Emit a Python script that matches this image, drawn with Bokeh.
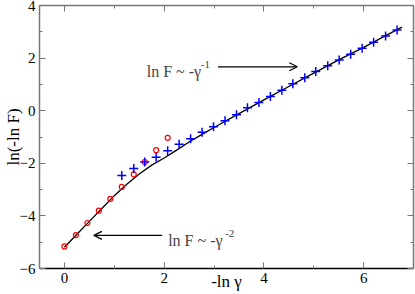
from bokeh.plotting import figure
from bokeh.models import LinearAxis, FixedTicker, Arrow, OpenHead, Label
from bokeh.embed import file_html
from bokeh.resources import INLINE

# ---- data ----
red_x = [0.0, 0.23, 0.46, 0.69, 0.92, 1.15, 1.39, 1.61, 1.84, 2.07]
red_y = [-5.16, -4.73, -4.27, -3.80, -3.35, -2.90, -2.42, -1.95, -1.50, -1.03]

blue_x = [1.15, 1.39, 1.61, 1.84, 2.07, 2.30, 2.53, 2.76, 2.99, 3.22, 3.45, 3.67, 3.90,
          4.13, 4.36, 4.58, 4.82, 5.04, 5.28, 5.51, 5.74, 5.97, 6.20, 6.44, 6.67]
blue_y = [-2.46, -2.20, -1.95, -1.77, -1.52, -1.28, -1.07, -0.82, -0.61, -0.38, -0.15, 0.11, 0.31,
          0.54, 0.78, 1.02, 1.25, 1.49, 1.71, 1.93, 2.15, 2.37, 2.60, 2.84, 3.07]

curve_x = [0.0, 0.25, 0.5, 0.75, 1.0, 1.25, 1.5, 1.75, 2.0, 2.25, 2.5, 2.75, 3.0,
           3.5, 4.0, 4.5, 5.0, 5.5, 6.0, 6.5, 6.77]
curve_y = [-5.19, -4.70, -4.21, -3.72, -3.23, -2.80, -2.41, -2.07, -1.80, -1.50, -1.19, -0.91, -0.64,
           -0.11, 0.41, 0.92, 1.43, 1.93, 2.41, 2.91, 3.18]

x_major = [0, 2, 4, 6]
x_minor = [1, 3, 5]
y_major = [-6, -4, -2, 0, 2, 4]
y_minor = [-5, -3, -1, 1, 3]

x_title = "-ln \u03b3"
y_title = "ln(-ln F)"

FONT = "Liberation Serif"

p = figure(width=415, height=294, x_range=(-0.5, 7), y_range=(-6, 4),
           output_backend="svg", toolbar_location=None,
           min_border_left=39, min_border_right=2, min_border_top=5, min_border_bottom=26,
           x_axis_label=x_title, y_axis_label=y_title)
p.grid.visible = False
p.outline_line_color = None
p.background_fill_color = "white"

def style_axis(ax, ticks, minor, labels=True, color="#777777", lw=1.5):
    ax.ticker = FixedTicker(ticks=ticks, minor_ticks=minor)
    ax.major_tick_in = 6
    ax.major_tick_out = 0
    ax.minor_tick_in = 3
    ax.minor_tick_out = 0
    ax.major_tick_line_color = "#777777"
    ax.minor_tick_line_color = "#777777"
    ax.major_tick_line_width = 1
    ax.minor_tick_line_width = 1
    ax.axis_line_color = color
    ax.axis_line_width = lw
    ax.major_label_text_font = FONT
    ax.major_label_text_font_size = "15px"
    ax.major_label_text_color = "black"
    ax.axis_label_text_font = FONT
    ax.axis_label_text_font_size = "17px"
    ax.axis_label_text_font_style = "normal"
    ax.axis_label_text_color = "black"
    if not labels:
        ax.major_label_overrides = {t: "" for t in ticks}
        ax.major_label_text_font_size = "1px"
        ax.major_label_standoff = 0

style_axis(p.xaxis[0], x_major, x_minor, color="black", lw=1.5)
p.xaxis[0].major_label_standoff = 4
p.xaxis[0].axis_label_standoff = -14
style_axis(p.yaxis[0], y_major, y_minor)
p.yaxis[0].major_label_standoff = 4
p.yaxis[0].axis_label_standoff = -6

top = LinearAxis()
style_axis(top, x_major, x_minor, labels=False)
p.add_layout(top, "above")
right = LinearAxis()
style_axis(right, y_major, y_minor, labels=False)
p.add_layout(right, "right")

p.line(curve_x, curve_y, line_color="black", line_width=1.3)
p.scatter(red_x, red_y, marker="circle", size=5, fill_color=None,
          line_color="#ff0000", line_width=1.2)
p.scatter(blue_x, blue_y, marker="cross", size=9, line_color="#0000ff", line_width=1.5)

# annotations
p.add_layout(Arrow(end=OpenHead(size=8, line_width=1.2), x_start=3.08, y_start=1.67,
                   x_end=4.67, y_end=1.67, line_width=1.2))
p.add_layout(Arrow(end=OpenHead(size=8, line_width=1.2), x_start=1.96, y_start=-4.74,
                   x_end=0.59, y_end=-4.74, line_width=1.2))

def ann(x, y, main, sup, sup_dx):
    p.add_layout(Label(x=x, y=y, text=main, text_font=FONT, text_font_size="16px",
                       text_baseline="alphabetic", text_align="left"))
    p.add_layout(Label(x=x, y=y, x_offset=sup_dx, y_offset=7, text=sup, text_font=FONT,
                       text_font_size="11px", text_baseline="alphabetic", text_align="left"))

ann(1.65, 1.48, "ln F ~ -\u03b3", "-1", 54)
ann(2.08, -4.93, "ln F ~ -\u03b3", "-2", 57)

open("out.html", "w").write(file_html(p, INLINE))
